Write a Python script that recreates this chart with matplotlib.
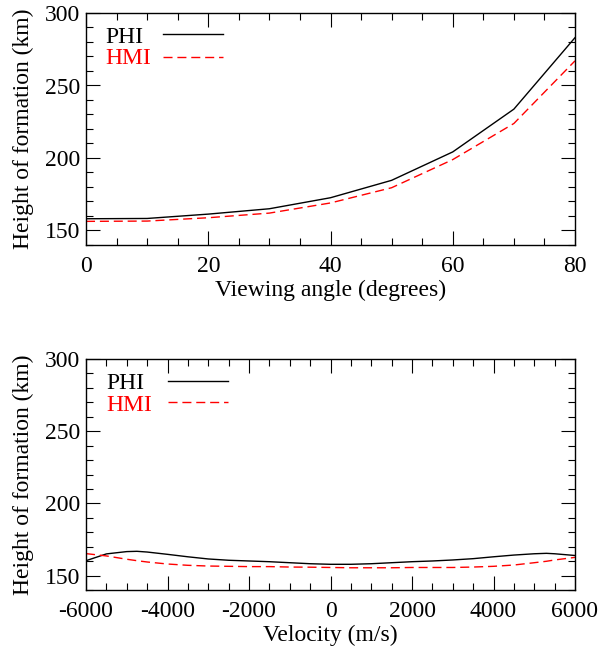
import matplotlib
matplotlib.use("Agg")
from matplotlib import pyplot as plt
from matplotlib.ticker import MultipleLocator

plt.rcParams["font.family"] = ["Liberation Serif", "DejaVu Serif"]
plt.rcParams["font.size"] = 17
plt.rcParams["axes.unicode_minus"] = False

# viewing angle panel
angles = [0, 10, 20, 30, 40, 50, 60, 70, 80]
phi_angle = [158.1, 158.3, 161.3, 165.0, 172.6, 184.6, 204.2, 233.7, 283.0]
hmi_angle = [156.3, 156.5, 158.8, 162.0, 169.0, 179.5, 198.9, 223.8, 267.0]

# velocity panel
velocity = [-6000, -5500, -5000, -4750, -4500, -4000, -3500, -3000, -2500,
            -2000, -1500, -1000, -500, 0, 500, 1000, 1500, 2000, 2500,
            3000, 3500, 4000, 4500, 5000, 5300, 5500, 6000]
phi_vel = [160.3, 165.0, 166.6, 166.8, 166.3, 164.7, 163.0, 161.5, 160.6,
           160.1, 159.6, 158.9, 158.2, 157.8, 157.8, 158.2, 158.9, 159.6, 160.1,
           160.8, 161.7, 163.0, 164.2, 165.1, 165.4, 165.1, 163.9]
hmi_vel = [165.2, 163.6, 161.3, 160.3, 159.4, 158.0, 157.1, 156.6, 156.4,
           156.2, 156.2, 155.9, 155.8, 155.6, 155.4, 155.4, 155.4, 155.6, 155.6,
           155.6, 155.9, 156.4, 157.3, 158.9, 159.9, 160.8, 162.6]

labels = ["PHI", "HMI"]
colors = ["black", "red"]
DASH = (6.5, 3.5)

fig = plt.figure(figsize=(6, 6.48), dpi=100)
ax1 = fig.add_axes([86 / 600, 1 - 245 / 648, 489 / 600, 232 / 648])
ax2 = fig.add_axes([86 / 600, 1 - 590 / 648, 489 / 600, 231 / 648])


def style(ax, xlabel):
    ax.set_ylim(140, 300)
    ax.set_yticks([150, 200, 250, 300])
    ax.yaxis.set_minor_locator(MultipleLocator(10))
    ax.set_ylabel("Height of formation (km)", labelpad=8)
    ax.set_xlabel(xlabel, labelpad=2)
    ax.tick_params(which="both", direction="in", top=True, right=True, width=0.8)
    ax.tick_params(which="major", length=10)
    ax.tick_params(which="minor", length=5)
    ax.tick_params(axis="x", pad=8)
    ax.tick_params(axis="y", pad=4)
    for s in ax.spines.values():
        s.set_linewidth(1.0)


def legend(ax, tx, x0, x1, text_y, line_y):
    # IDL-style legend: label first, then a line sample
    for lab, c, ty, ly, ls in zip(labels, colors, text_y, line_y, ["-", "--"]):
        ax.text(tx, ty, lab, color=c, transform=ax.transAxes,
                ha="left", va="baseline")
        line, = ax.plot([x0, x1], [ly, ly], color=c, lw=1.0,
                        transform=ax.transAxes, clip_on=False)
        if ls == "--":
            line.set_dashes(DASH)


ax1.plot(angles, phi_angle, color="black", lw=1.0)
ax1.plot(angles, hmi_angle, color="red", lw=1.0, dashes=DASH)
ax1.set_xlim(0, 80)
ax1.set_xticks([0, 20, 40, 60, 80])
ax1.xaxis.set_minor_locator(MultipleLocator(5))
style(ax1, "Viewing angle (degrees)")
legend(ax1, 0.039, 0.157, 0.280, [0.871, 0.780], [0.908, 0.812])

ax2.plot(velocity, phi_vel, color="black", lw=1.0)
ax2.plot(velocity, hmi_vel, color="red", lw=1.0, dashes=DASH)
ax2.set_xlim(-6000, 6000)
ax2.set_xticks([-6000, -4000, -2000, 0, 2000, 4000, 6000])
ax2.xaxis.set_minor_locator(MultipleLocator(500))
style(ax2, "Velocity (m/s)")
legend(ax2, 0.042, 0.168, 0.290, [0.870, 0.776], [0.903, 0.812])

fig.savefig("out.png", dpi=100)
